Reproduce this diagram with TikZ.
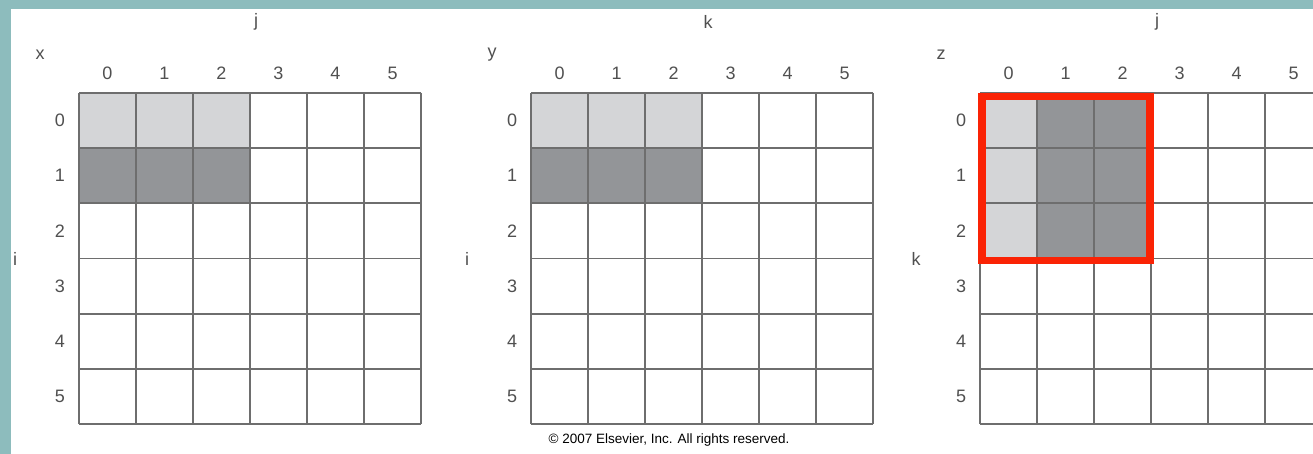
\documentclass[tikz,border=0pt]{standalone}
\usepackage{fontspec}
\setmainfont{Liberation Sans}
\definecolor{bgteal}{HTML}{8DBCBD}
\definecolor{lightcell}{HTML}{D4D5D7}
\definecolor{darkcell}{HTML}{939598}
\definecolor{gridline}{HTML}{6E6E6E}
\definecolor{txt}{HTML}{505050}
\definecolor{hired}{RGB}{250,35,5}
\tikzset{
  lbl/.style={font=\fontsize{18}{18}\selectfont, text=txt, inner sep=0pt, anchor=center},
  gridstroke/.style={draw=gridline, line width=1.8pt},
  lightfill/.style={fill=lightcell},
  darkfill/.style={fill=darkcell},
  redbox/.style={draw=hired, line width=7.5pt},
}
\newcommand\cw{57}
\newcommand\ch{55.17}
\newcommand\gtop{93}
% #1 origin x, #2 grid id, #3 top letter, #4 corner letter, #5 side letter
\newcommand\mygridlabels[5]{%
  \node[lbl] (top#2) at (#1+177,22) {#3};
  \node[lbl] (corner#2) at (#1-39,55) {#4};
  \node[lbl] (side#2) at (#1-64,259) {#5};
  \foreach \c in {0,...,5} {
    \node[lbl] (col#2-\c) at ({#1+28.5+\cw*\c},73) {\c};
    \node[lbl] (row#2-\c) at (#1-19,{\gtop+27.6+\ch*\c}) {\c};
  }
}
\newcommand\mygridlines[1]{%
  \foreach \c in {0,...,6} {
    \draw[gridstroke] ({#1+\cw*\c},\gtop) -- ({#1+\cw*\c},{\gtop+6*\ch});
    \draw[gridstroke] (#1,{\gtop+\ch*\c}) -- ({#1+6*\cw},{\gtop+\ch*\c});
  }
}
\begin{document}
\begin{tikzpicture}[x=1pt,y=-1pt]
\useasboundingbox (0,0) rectangle (1313,454);
\clip (0,0) rectangle (1313,454);
\fill[bgteal] (0,0) rectangle (1313,454);
\fill[white] (11,9) rectangle (1313,454);

% grid 1 (x)
\fill[lightfill] (79,\gtop) rectangle ({79+3*\cw},{\gtop+\ch});
\fill[darkfill] (79,{\gtop+\ch}) rectangle ({79+3*\cw},{\gtop+2*\ch});
\mygridlines{79}
\mygridlabels{79}{a}{j}{x}{i}

% grid 2 (y)
\fill[lightfill] (531,\gtop) rectangle ({531+3*\cw},{\gtop+\ch});
\fill[darkfill] (531,{\gtop+\ch}) rectangle ({531+3*\cw},{\gtop+2*\ch});
\mygridlines{531}
\mygridlabels{531}{b}{k}{y}{i}

% grid 3 (z)
\fill[lightfill] (980,\gtop) rectangle ({980+\cw},{\gtop+3*\ch});
\fill[darkfill] ({980+\cw},\gtop) rectangle ({980+3*\cw},{\gtop+3*\ch});
\mygridlines{980}
\mygridlabels{980}{c}{j}{z}{k}
\draw[redbox] (982,96.5) rectangle (1150,260.5);

\node[font=\fontsize{13.5}{13.5}\selectfont, text=black, inner sep=0pt] (copy) at (669,440) {\textcopyright{} 2007 Elsevier, Inc. All rights reserved.};
\end{tikzpicture}
\end{document}
